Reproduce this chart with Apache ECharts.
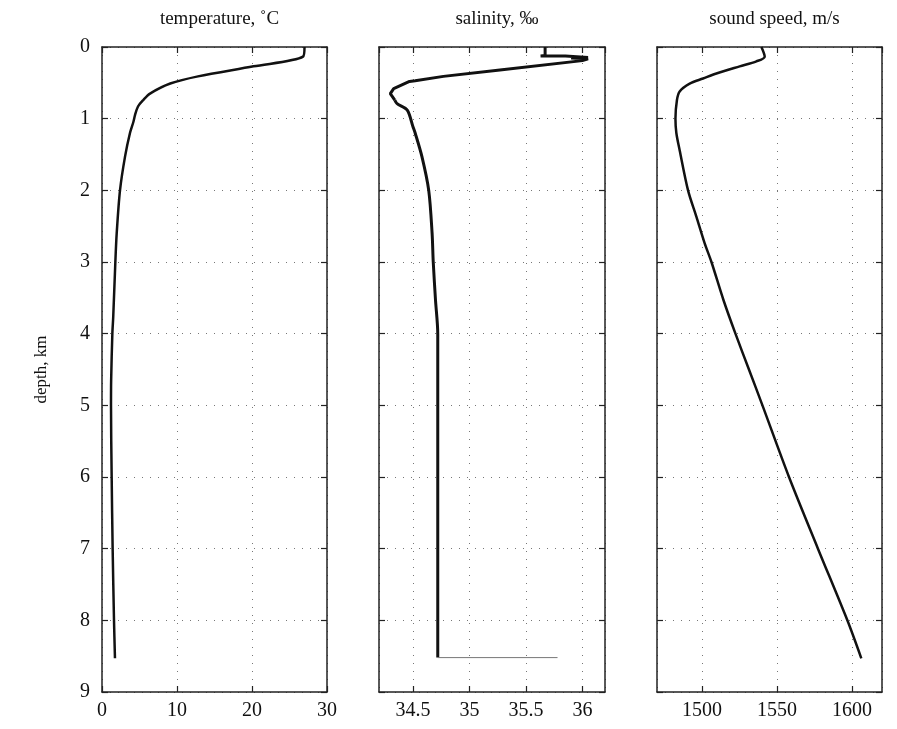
<!DOCTYPE html>
<html>
<head>
<meta charset="utf-8">
<script src="https://cdn.jsdelivr.net/npm/echarts@6/dist/echarts.min.js"></script>
<style>
html,body{margin:0;padding:0;background:#fff;}
#chart{width:897px;height:729px;}
</style>
</head>
<body>
<div id="chart"></div>
<script>
// ---- data ----
var panelTitles = ['temperature, ˚C', 'salinity, ‰', 'sound speed, m/s'];
var depthTicks = [0,1,2,3,4,5,6,7,8,9];

var tempDepth = [0, 0.135, 0.27, 0.41, 0.51, 0.65, 0.74, 0.83, 0.95, 1.04, 1.2, 1.53, 2.0, 2.6, 3.0, 3.76, 4.0, 4.65, 5.0, 6.0, 7.0, 8.0, 8.53];
var tempValue = [27, 26.8, 20.2, 12.8, 9.1, 6.4, 5.5, 4.8, 4.4, 4.2, 3.73, 3.07, 2.4, 1.96, 1.78, 1.5, 1.38, 1.22, 1.2, 1.29, 1.42, 1.6, 1.73];

// upper (noisy) salinity part
var salDepth = [0.0, 0.12, 0.125, 0.125, 0.145, 0.155, 0.165, 0.19, 0.2, 0.32, 0.41, 0.47, 0.48, 0.58, 0.65, 0.74];
var salValue = [35.67, 35.67, 35.63, 35.85, 36.05, 35.9, 36.05, 36.0, 35.99, 35.27, 34.77, 34.52, 34.47, 34.33, 34.30, 34.34];
// deep salinity part
var salDeepDepth = [0.74, 0.79, 0.88, 1.11, 1.2, 1.53, 2.0, 2.6, 3.0, 3.53, 4.0, 4.5, 5.0, 6.0, 7.0, 8.0, 8.52];
var salDeepValue = [34.34, 34.36, 34.45, 34.50, 34.52, 34.58, 34.64, 34.67, 34.68, 34.70, 34.72, 34.72, 34.72, 34.72, 34.72, 34.72, 34.72];

var salTailDepth = [8.52, 8.52];
var salTailValue = [34.72, 35.78];

var soundDepth = [0, 0.135, 0.2, 0.27, 0.37, 0.44, 0.51, 0.62, 0.74, 1.0, 1.2, 1.44, 2.0, 2.37, 2.74, 3.0, 3.53, 4.0, 4.5, 5.0, 6.0, 7.0, 8.0, 8.53];
var soundValue = [1539.6, 1541.8, 1536.3, 1525.1, 1509.6, 1500.7, 1491.8, 1485.1, 1483.3, 1482.3, 1482.9, 1485.1, 1490.7, 1496.3, 1501.8, 1506.3, 1514.3, 1522.3, 1531.3, 1540.3, 1558.0, 1577.3, 1596.9, 1606.2];

function pairs(xs, ys){ return xs.map(function(x,i){ return [x, ys[i]]; }); }

// ---- layout ----
var FONT = 'Liberation Serif';
var grids = [
  {left:102, top:47, width:225, height:645},
  {left:379, top:47, width:226, height:645},
  {left:657, top:47, width:225, height:645}
];
var xRanges = [
  {min:0, max:30, interval:10},
  {min:34.2, max:36.2, step:0.5},
  {min:1470, max:1620, step:50}
];

var dotted = {show:true, lineStyle:{color:'#777', width:1, type:[1,7]}};
var axisLine = {show:true, onZero:false, lineStyle:{color:'#222', width:1.5}};
var tick = {show:true, inside:true, length:6, lineStyle:{color:'#222', width:1.2}};

var xAxes = [], yAxes = [];
xRanges.forEach(function(r, i){
  var base = {type:'value', gridIndex:i, min:r.min, max:r.max};
  if (r.interval) base.interval = r.interval;
  else { base.minInterval = r.step; base.maxInterval = r.step; base.splitNumber = 4; }
  xAxes.push(Object.assign({}, base, {
    position:'bottom', axisLine:axisLine, axisTick:tick,
    axisLabel:{show:true, showMinLabel: !!r.interval, showMaxLabel: !!r.interval, color:'#111',
      fontFamily:FONT, fontSize:20, margin:9, formatter:function(v){ return String(+v.toFixed(2)); }},
    splitLine:dotted
  }));
  xAxes.push(Object.assign({}, base, {
    position:'top', axisLine:axisLine, axisTick:tick,
    axisLabel:{show:false}, splitLine:{show:false}
  }));
  var ybase = {type:'value', gridIndex:i, min:0, max:9, interval:1, inverse:true};
  yAxes.push(Object.assign({}, ybase, {
    position:'left', axisLine:axisLine, axisTick:tick,
    axisLabel:{show: i===0, color:'#111', fontFamily:FONT, fontSize:20, margin:12},
    splitLine:dotted,
    name: i===0 ? 'depth, km' : '',
    nameLocation:'middle', nameGap:52, nameRotate:90,
    nameTextStyle:{color:'#111', fontFamily:FONT, fontSize:17}
  }));
  yAxes.push(Object.assign({}, ybase, {
    position:'right', axisLine:axisLine, axisTick:tick,
    axisLabel:{show:false}, splitLine:{show:false}
  }));
});

var titles = panelTitles.map(function(t, i){
  return {text:t, left: grids[i].left + grids[i].width/2, top:5, textAlign:'center',
    textStyle:{color:'#111', fontFamily:FONT, fontSize:19, fontWeight:'normal'}};
});

function lineSeries(i, data, width, color, smooth){
  return {type:'line', xAxisIndex:2*i, yAxisIndex:2*i, data:data, showSymbol:false, symbol:'none',
    smooth: smooth || false,
    lineStyle:{color:color, width:width}, silent:true, animation:false};
}

var chart = echarts.init(document.getElementById('chart'), null, {renderer:'canvas'});
chart.setOption({
  backgroundColor:'#fff',
  animation:false,
  title: titles,
  grid: grids,
  xAxis: xAxes,
  yAxis: yAxes,
  series: [
    lineSeries(0, pairs(tempValue, tempDepth), 2.5, '#111', 0.3),
    lineSeries(1, pairs(salValue, salDepth), 3, '#111', false),
    lineSeries(1, pairs(salDeepValue, salDeepDepth), 3, '#111', 0.3),
    lineSeries(1, pairs(salTailValue, salTailDepth), 1, '#777', false),
    lineSeries(2, pairs(soundValue, soundDepth), 2.5, '#111', 0.3)
  ]
});
</script>
</body>
</html>
